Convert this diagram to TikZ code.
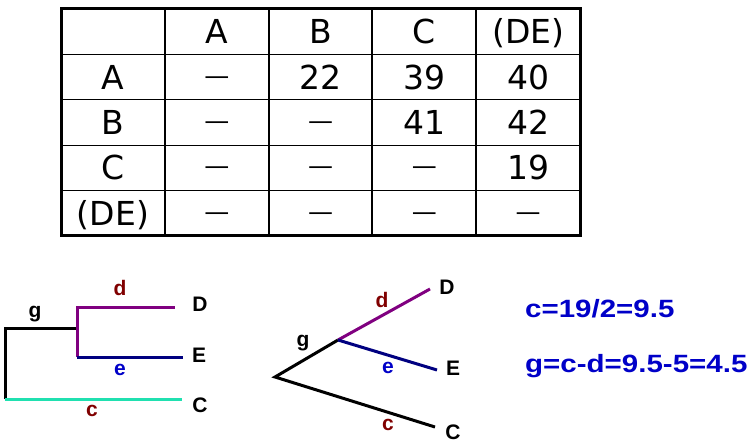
\documentclass[tikz,border=0pt]{standalone}
\usepackage{fontspec}
\setmainfont{DejaVu Sans}
\newfontfamily\treefont{Liberation Sans}
\newfontfamily\eqfont[FakeStretch=1.18]{Liberation Sans}
\definecolor{darkred}{RGB}{128,0,0}
\definecolor{labelblue}{RGB}{0,0,200}
\definecolor{purpline}{RGB}{128,0,128}
\definecolor{navyline}{RGB}{0,0,128}
\definecolor{tealline}{RGB}{32,224,176}
\newcommand\emptydash{\raisebox{5pt}{\fontsize{25}{25}\selectfont —}}

\begin{document}
\begin{tikzpicture}[x=1pt,y=-1pt,
    cell/.style={inner sep=0pt,text height=24pt,text depth=0pt,font=\fontsize{33}{36}\selectfont},
    branch/.style={line width=3pt,line join=miter},
    leaf/.style={inner sep=0pt,text height=15pt,text depth=0pt,font=\treefont\bfseries\fontsize{21}{24}\selectfont},
    blabel/.style={inner sep=0pt,text height=11pt,text depth=0pt,font=\treefont\bfseries\fontsize{21}{24}\selectfont},
    eqn/.style={inner sep=0pt,anchor=base west,text=labelblue,font=\eqfont\bfseries\fontsize{25}{28}\selectfont}]
    \useasboundingbox (0,0) rectangle (754,443);
    % distance table
    \foreach \x in {165,269,372,476}
        \draw [line width=1.3pt] (\x,9) -- (\x,236);
    \foreach \y in {54.4,99.8,145.2,190.6}
        \draw [line width=1.3pt] (61,\y) -- (580,\y);
    \draw [line width=3pt] (61,9) rectangle (580,236);
    \foreach \lab [count=\i] in {A,B,C,{(DE)}} {
        \node [cell] (h\i) at ({113+103.8*\i},31.7) {\lab};
        \node [cell] (r\i) at (113,{31.7+45.4*\i}) {\lab};
    }
    \foreach \row [count=\r] in {{\emptydash,22,39,40},{\emptydash,\emptydash,41,42},
            {\emptydash,\emptydash,\emptydash,19},{\emptydash,\emptydash,\emptydash,\emptydash}}
        \foreach \val [count=\c] in \row
            \node [cell] (v\r\c) at ({113+103.8*\c},{31.7+45.4*\r}) {\val};
    % rectangular tree
    \coordinate (top1) at (5,328);
    \coordinate (root1) at (5,399);
    \coordinate (in1) at (77,328);
    \coordinate (ind1) at (77,307);
    \coordinate (ine1) at (77,357);
    \coordinate (dend1) at (175,307);
    \coordinate (eend1) at (183,357);
    \coordinate (cend1) at (182,399);
    \draw [branch] (root1) -- (top1) -- (in1);
    \draw [branch,purpline] (ine1) -- (ind1) -- (dend1);
    \draw [branch,navyline] (ine1) -- (eend1);
    \draw [branch,tealline] (root1) -- (cend1);
    \node [leaf] (D1) at (200,304) {D};
    \node [leaf] (E1) at (199,355) {E};
    \node [leaf] (C1) at (200,405) {C};
    \node [blabel,text=darkred] (d1) at (120,290) {d};
    \node [blabel] (g1) at (35,312) {g};
    \node [blabel,text=labelblue] (e1) at (120,370) {e};
    \node [blabel,text=darkred] (c1) at (92,411) {c};
    % slanted tree
    \coordinate (root2) at (275,377);
    \coordinate (in2) at (338,340);
    \coordinate (dend2) at (430,289);
    \coordinate (eend2) at (437,370);
    \coordinate (cend2) at (435,427);
    \draw [branch] (in2) -- (root2) -- (cend2);
    \draw [branch,purpline] (in2) -- (dend2);
    \draw [branch,navyline] (in2) -- (eend2);
    \node [leaf] (D2) at (447,287) {D};
    \node [leaf] (E2) at (453,368) {E};
    \node [leaf] (C2) at (453,432) {C};
    \node [blabel,text=darkred] (d2) at (382,302) {d};
    \node [blabel] (g2) at (303,341) {g};
    \node [blabel,text=labelblue] (e2) at (388,368) {e};
    \node [blabel,text=darkred] (c2) at (388,425) {c};
    \node [eqn] (eqc) at (525,317) {c=19/2=9.5};
    \node [eqn] (eqg) at (525,372) {g=c-d=9.5-5=4.5};
\end{tikzpicture}
\end{document}
